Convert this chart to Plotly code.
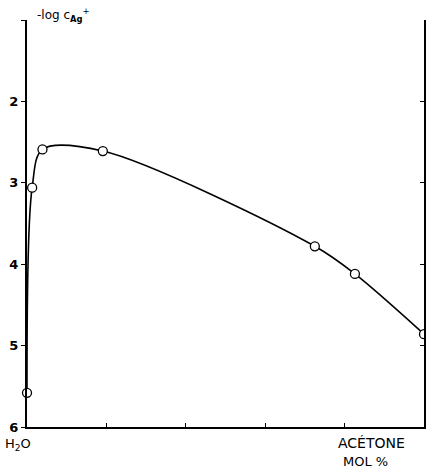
import plotly.graph_objects as go

# Data
acetone_mol_pct = [0, 1.3, 3.9, 19.1, 72.5, 82.6, 100]
neg_log_c_ag = [5.58, 3.06, 2.59, 2.61, 3.78, 4.12, 4.86]

y_tick_vals = [1, 2, 3, 4, 5, 6]
y_tick_text = ["", "2", "3", "4", "5", "6"]
x_tick_vals = [20, 40, 60, 80]

FONT = "DejaVu Sans"

fig = go.Figure()

fig.add_trace(go.Scatter(
    x=acetone_mol_pct, y=neg_log_c_ag, mode="lines",
    line=dict(color="black", width=1.6, shape="spline", smoothing=0.9),
    hoverinfo="skip", showlegend=False,
))
fig.add_trace(go.Scatter(
    x=acetone_mol_pct[:-1], y=neg_log_c_ag[:-1], mode="markers",
    marker=dict(symbol="circle", size=9, color="white",
                line=dict(color="black", width=1.3)),
    cliponaxis=False, showlegend=False,
))
fig.add_trace(go.Scatter(
    x=acetone_mol_pct[-1:], y=neg_log_c_ag[-1:], mode="markers",
    marker=dict(symbol="circle", size=9, color="white",
                line=dict(color="black", width=1.3)),
    cliponaxis=True, showlegend=False,
))
# invisible trace so the right-hand axis is drawn
fig.add_trace(go.Scatter(
    x=acetone_mol_pct, y=neg_log_c_ag, yaxis="y2", mode="lines",
    line=dict(width=0), opacity=0, hoverinfo="skip", showlegend=False,
))

fig.update_layout(
    width=427, height=472,
    margin=dict(l=27, r=3, t=20, b=45),
    paper_bgcolor="white", plot_bgcolor="white",
    font=dict(family=FONT, color="black"),
    xaxis=dict(
        range=[0, 100], showgrid=False, zeroline=False,
        showline=True, linecolor="black", linewidth=2,
        tickvals=x_tick_vals, ticks="inside", ticklen=4,
        tickcolor="black", tickwidth=1, showticklabels=False,
    ),
    yaxis=dict(
        range=[6, 1], showgrid=False, zeroline=False,
        showline=True, linecolor="black", linewidth=2,
        tickvals=y_tick_vals, ticktext=y_tick_text,
        ticks="outside", ticklen=4, tickcolor="black", tickwidth=1.2,
        tickfont=dict(family=FONT, size=13, color="black", weight="bold"),
    ),
    yaxis2=dict(
        range=[6, 1], overlaying="y", side="right", anchor="x",
        showgrid=False, zeroline=False,
        showline=True, linecolor="black", linewidth=2,
        tickvals=y_tick_vals[1:-1], ticks="inside", ticklen=4,
        tickcolor="black", tickwidth=1, showticklabels=False,
    ),
)

fig.add_annotation(
    text="-log c<sub><b>Ag</b></sub><sup>+</sup>",
    xref="paper", yref="paper", x=0, y=1, xanchor="left", yanchor="middle",
    xshift=8, yshift=5, showarrow=False,
    font=dict(family=FONT, size=12, color="black"),
)
fig.add_annotation(
    text="H<sub>2</sub>O",
    xref="paper", yref="paper", x=0, y=0, xanchor="center", yanchor="middle",
    xshift=-9, yshift=-17, showarrow=False,
    font=dict(family=FONT, size=13, color="black"),
)
fig.add_annotation(
    text="ACÉTONE",
    xref="paper", yref="paper", x=0.867, y=0, xanchor="center", yanchor="middle",
    yshift=-16, showarrow=False,
    font=dict(family=FONT, size=14, color="black"),
)
fig.add_annotation(
    text="MOL %",
    xref="paper", yref="paper", x=0.852, y=0, xanchor="center", yanchor="middle",
    yshift=-34, showarrow=False,
    font=dict(family=FONT, size=13, color="black"),
)

fig.write_html(
    "out.html",
    config={"displayModeBar": False},
    post_script="document.body.style.margin='0';document.body.style.overflow='hidden';",
)
